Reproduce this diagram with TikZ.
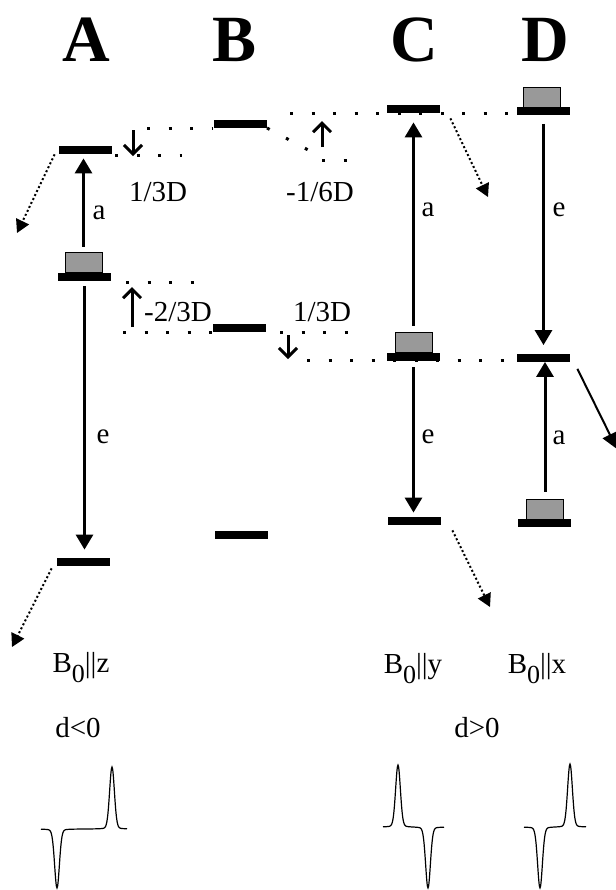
\documentclass[tikz,border=0pt]{standalone}
\usepackage{fontspec}
\setmainfont{Liberation Serif}
\usetikzlibrary{arrows.meta}

\begin{document}
\begin{tikzpicture}[
  x=0.5pt, y=-0.5pt,
  font=\fontsize{14.5}{17}\selectfont,
  declare function={pk(\u)=0.9*exp(-min((\u/3.4)*(\u/3.4),20))+0.1/(1+(\u/3)*(\u/3));},
  lvlbar/.style={fill=black, minimum width=26.5pt, minimum height=4pt, inner sep=0pt},
  spinbox/.style={draw=black, line width=0.5pt, fill=black!40, minimum width=18.5pt, minimum height=10pt, inner sep=0pt},
  trans/.style={-{Triangle[length=7.5pt,width=8.5pt]}, line width=1.5pt},
  shiftarr/.style={-{Straight Barb[length=4.5pt,width=9pt]}, line width=1.5pt},
  decayarr/.style={-{Triangle[length=6.5pt,width=7pt]}, line width=1pt, dash pattern=on 1pt off 1.2pt},
  relaxarr/.style={-{Triangle[length=8pt,width=8pt]}, line width=1pt},
  guide/.style={line width=1.5pt, dash pattern=on 1.5pt off 9.25pt},
  colhead/.style={font=\fontsize{33}{36}\selectfont\bfseries},
  spec/.style={line width=0.6pt}
]
\useasboundingbox (0,0) rectangle (616,890);

% column heads
\node[colhead] (hA) at (86,40) {A};
\node[colhead] (hB) at (235,40) {B};
\node[colhead] (hC) at (414,40) {C};
\node[colhead] (hD) at (545,40) {D};

% dotted reference lines
\draw[guide] (115,155) -- (182,155);
\draw[guide] (147,128) -- (213,128);
\draw[guide] (267,128) -- (312,152);
\draw[guide] (322,160) -- (352,160);
\draw[guide] (290,113) -- (517,113);
\draw[guide] (126,282) -- (195,282);
\draw[guide] (123,332) -- (213,332);
\draw[guide] (280,332) -- (350,332);
\draw[guide] (307,360) -- (517,360);

% levels
\node[lvlbar] (A1) at (85.5,150) {};
\node[lvlbar] (A2) at (84.5,277) {};
\node[lvlbar] (A3) at (83.5,562) {};
\node[lvlbar] (B1) at (240,124) {};
\node[lvlbar] (B2) at (239.5,328) {};
\node[lvlbar] (B3) at (241.5,534.5) {};
\node[lvlbar] (C1) at (413.5,109) {};
\node[lvlbar] (C2) at (413.5,357) {};
\node[lvlbar] (C3) at (414.5,521) {};
\node[lvlbar] (D1) at (543.5,110.5) {};
\node[lvlbar] (D2) at (543.5,357.5) {};
\node[lvlbar] (D3) at (544.5,523) {};

% populated levels
\node[spinbox] (A2box) at (83.5,262) {};
\node[spinbox] (C2box) at (413.5,342) {};
\node[spinbox] (D1box) at (542,97.5) {};
\node[spinbox] (D3box) at (545,509) {};

% transitions
\draw[trans, shorten <=2.5pt, shorten >=2pt] (A2box.north) -- (A2box.north |- A1.south);
\draw[trans, shorten <=2.5pt, shorten >=4pt] (A2.south) -- (A2.south |- A3.north);
\draw[trans, shorten <=3pt, shorten >=4.5pt] (C2box.north) -- (C2box.north |- C1.south);
\draw[trans, shorten <=3pt, shorten >=2pt] (C2.south) -- (C2.south |- C3.north);
\draw[trans, shorten <=4.5pt, shorten >=4pt] (D1.south) -- (D1.south |- D2.north);
\draw[trans, shorten <=3.5pt] (D3box.north) -- (D3box.north |- D2.south);

\node (aA) at (99,213) {a};
\node (eA) at (103,437) {e};
\node (aC) at (428,210) {a};
\node (eC) at (428,437) {e};
\node (eD) at (559,210) {e};
\node (aD) at (559,438) {a};

% level shifts
\coordinate (s1a) at (133,130); \coordinate (s1b) at (133,156);
\coordinate (s2a) at (322,147); \coordinate (s2b) at (322,121);
\coordinate (s3a) at (132,327); \coordinate (s3b) at (132,287);
\coordinate (s4a) at (288,335); \coordinate (s4b) at (288,359);
\draw[shiftarr] (s1a) -- (s1b);
\draw[shiftarr] (s2a) -- (s2b);
\draw[shiftarr] (s3a) -- (s3b);
\draw[shiftarr] (s4a) -- (s4b);

\node (dz1) at (158,192) {1/3D};
\node (dy1) at (320,192) {-1/6D};
\node (dz2) at (178,312) {-2/3D};
\node (dy2) at (322,312) {1/3D};

% intersystem crossing
\coordinate (xA1) at (17,233);
\coordinate (xA3) at (12,647);
\coordinate (xC1) at (488,197);
\coordinate (xC3) at (490,607);
\coordinate (xD2) at (617,449);
\draw[decayarr] ([xshift=-2pt]A1.south west) -- (xA1);
\draw[decayarr] ([xshift=-2.5pt,yshift=-1pt]A3.south west) -- (xA3);
\draw[decayarr] ([xshift=5pt,yshift=-2.5pt]C1.south east) -- (xC1);
\draw[decayarr] ([xshift=5.5pt,yshift=-2.5pt]C3.south east) -- (xC3);
\draw[relaxarr] ([xshift=3.5pt,yshift=-3.5pt]D2.south east) -- (xD2);

% field directions
\node[anchor=base] (bz) at (81,672) {B\raisebox{-5pt}{\fontsize{13}{15}\selectfont 0}||z};
\node[anchor=base] (by) at (413,673) {B\raisebox{-5pt}{\fontsize{13}{15}\selectfont 0}||y};
\node[anchor=base] (bx) at (537,673) {B\raisebox{-5pt}{\fontsize{13}{15}\selectfont 0}||x};
\node[anchor=base] (dneg) at (78,737) {d<0};
\node[anchor=base] (dpos) at (477,737) {d>0};

% spectra
\draw[spec] plot[domain=41:127, samples=173, smooth] (\x, {829 + 59*pk(\x-57) - 62*pk(\x-112)});
\draw[spec] plot[domain=383:444, samples=123, smooth] (\x, {827 - 62*pk(\x-398) + 61*pk(\x-428)});
\draw[spec] plot[domain=524:586, samples=125, smooth] (\x, {827 + 61*pk(\x-540) - 63*pk(\x-570)});
\end{tikzpicture}
\end{document}
